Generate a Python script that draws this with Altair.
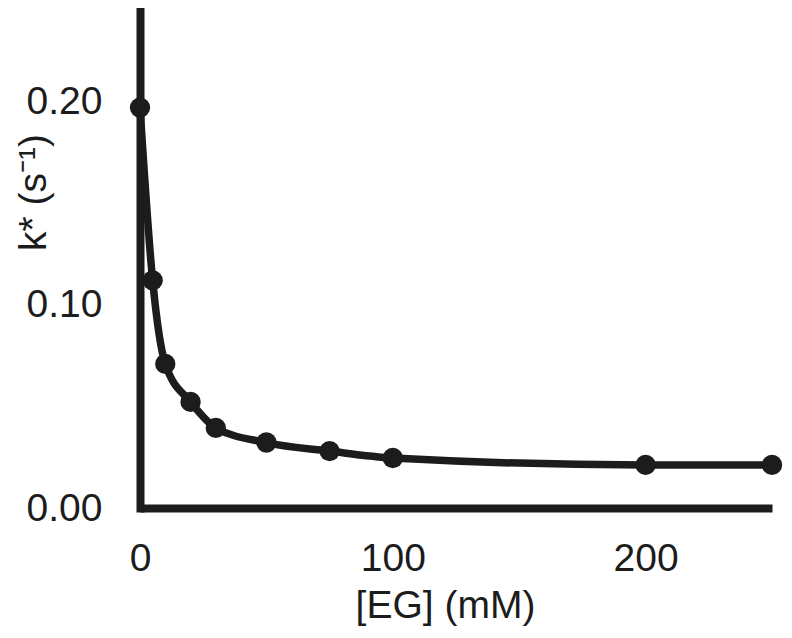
import altair as alt
import pandas as pd

# Data
eg_mM = [0, 5, 10, 20, 30, 50, 75, 100, 200, 250]
k_star = [0.197, 0.112, 0.0709, 0.0522, 0.0394, 0.0322, 0.028, 0.0246, 0.0212, 0.0212]
x_ticks = [0, 100, 200]
y_ticks = [0.0, 0.1, 0.2]

df = pd.DataFrame({"eg": eg_mM, "k": k_star})

ink = "#1c1c1c"
font = "Liberation Sans"

x_enc = alt.X(
    "eg:Q",
    scale=alt.Scale(domain=[0, 250], nice=False, zero=False),
    axis=alt.Axis(
        values=x_ticks, format="d", title="[EG] (mM)", grid=False, ticks=False,
        domainWidth=8, domainColor=ink, labelFont=font, labelFontSize=39,
        labelColor=ink, labelPadding=31, labelFlush=False,
        titleFont=font, titleFontSize=39, titleFontWeight="normal", titleColor=ink,
        titleX=305, titleY=109, titleBaseline="alphabetic", titleAlign="center",
    ),
)
y_enc = alt.Y(
    "k:Q",
    scale=alt.Scale(domain=[0, 0.246], nice=False, zero=False),
    axis=alt.Axis(
        values=y_ticks, format=".2f", title="k* (s⁻¹)", grid=False, ticks=False,
        domainWidth=8, domainColor=ink, domainCap="square", labelFont=font,
        labelFontSize=39, labelColor=ink, labelPadding=38, labelFlush=False,
        titleFont=font, titleFontSize=39, titleFontWeight="normal", titleColor=ink,
        titleX=-95, titleY=184, titleBaseline="alphabetic", titleAlign="center",
        titleAngle=270,
    ),
)

base = alt.Chart(df)
line = base.mark_line(color=ink, strokeWidth=7.5, interpolate="monotone").encode(x=x_enc, y=y_enc)
pts = base.mark_circle(color=ink, size=415, opacity=1).encode(x=x_enc, y=y_enc)

chart = (
    alt.layer(line, pts)
    .properties(
        width=632,
        height=500,
        autosize=alt.AutoSizeParams(type="none"),
        padding={"left": 132, "top": 0, "right": 12, "bottom": 118},
        background="white",
    )
    .configure_view(stroke=None)
)

chart.save("out.html", embed_options={"renderer": "svg", "actions": False})
